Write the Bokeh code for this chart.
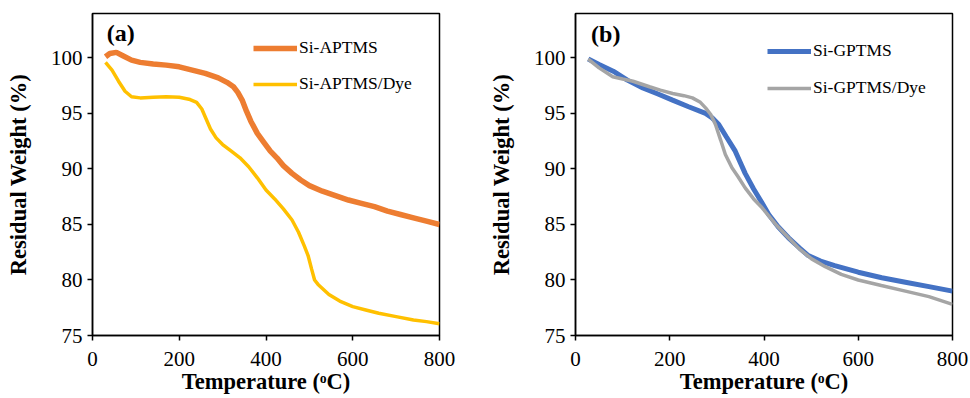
from bokeh.plotting import figure
from bokeh.layouts import row
from bokeh.models import Legend, LegendItem, Label, Range1d
from bokeh.embed import file_html
from bokeh.resources import INLINE

# ---- data ----
x_ticks = [0, 200, 400, 600, 800]
y_ticks = [75, 80, 85, 90, 95, 100]

aptms_T = [30, 40, 55, 70, 90, 110, 140, 170, 200, 230, 260, 290, 310, 325, 335, 345, 355, 365,
           380, 395, 410, 425, 440, 460, 480, 500, 530, 560, 590, 620, 650, 680, 710, 740, 770, 800]
aptms_W = [100.1, 100.4, 100.5, 100.2, 99.8, 99.6, 99.45, 99.35, 99.2, 98.9, 98.6, 98.2, 97.8, 97.4,
           96.9, 96.2, 95.2, 94.3, 93.2, 92.4, 91.6, 91.0, 90.3, 89.6, 89.0, 88.5, 88.0, 87.6, 87.2,
           86.9, 86.6, 86.2, 85.9, 85.6, 85.3, 85.0]

aptms_dye_T = [30, 45, 60, 75, 90, 110, 140, 170, 200, 225, 240, 252, 262, 272, 285, 300, 320, 340,
               360, 380, 400, 420, 440, 460, 475, 488, 497, 505, 512, 520, 545, 570, 600, 630, 660,
               700, 740, 770, 800]
aptms_dye_W = [99.6, 98.9, 97.9, 97.0, 96.5, 96.4, 96.45, 96.5, 96.45, 96.25, 96.0, 95.4, 94.5, 93.6,
               92.8, 92.2, 91.6, 91.0, 90.2, 89.2, 88.1, 87.3, 86.4, 85.4, 84.3, 83.1, 82.2, 81.0,
               80.0, 79.6, 78.7, 78.1, 77.6, 77.3, 77.0, 76.7, 76.4, 76.25, 76.05]

gptms_T = [27, 50, 80, 110, 143, 175, 206, 240, 276, 290, 304, 320, 339, 360, 378, 395, 410, 430,
           452, 475, 494, 520, 550, 600, 650, 700, 750, 800]
gptms_W = [99.9, 99.4, 98.8, 98.0, 97.3, 96.75, 96.2, 95.6, 95.0, 94.6, 94.0, 92.9, 91.6, 89.6,
           88.2, 87.0, 85.9, 84.8, 83.8, 82.9, 82.2, 81.7, 81.3, 80.7, 80.2, 79.8, 79.4, 79.0]

gptms_dye_T = [27, 50, 79, 100, 122, 157, 180, 206, 230, 248, 265, 276, 287, 297, 308, 318, 332,
               345, 360, 378, 396, 425, 452, 475, 501, 530, 564, 600, 649, 700, 750, 800]
gptms_dye_W = [99.9, 99.1, 98.3, 98.1, 97.9, 97.4, 97.1, 96.8, 96.6, 96.4, 96.0, 95.5, 94.9, 94.0,
               92.6, 91.3, 90.1, 89.3, 88.3, 87.3, 86.5, 85.0, 83.8, 82.8, 81.9, 81.2, 80.5, 80.0,
               79.5, 79.0, 78.5, 77.8]

FONT = "Liberation Serif"
XLABEL = "Temperature (\u1d52C)"
YLABEL = "Residual Weight (%)"


def make_panel(width, height, bl, br, bt, bb):
    p = figure(width=width, height=height, output_backend="svg", toolbar_location=None,
               x_range=Range1d(0, 800), y_range=Range1d(75, 104),
               min_border_left=bl, min_border_right=br, min_border_top=bt, min_border_bottom=bb)
    p.xgrid.visible = False
    p.ygrid.visible = False
    p.outline_line_color = "black"
    p.outline_line_width = 1.5
    p.outline_line_alpha = 1
    p.background_fill_color = "white"
    p.border_fill_color = "white"
    p.xaxis.ticker = x_ticks
    p.yaxis.ticker = y_ticks
    for ax in (p.xaxis, p.yaxis):
        ax.axis_line_color = "black"
        ax.axis_line_width = 1.5
        ax.major_tick_line_color = "black"
        ax.major_tick_line_width = 1.5
        ax.major_tick_in = 0
        ax.major_tick_out = 5
        ax.minor_tick_line_color = None
        ax.major_label_text_font = FONT
        ax.major_label_text_font_size = "21px"
        ax.major_label_text_color = "black"
        ax.axis_label_text_font = FONT
        ax.axis_label_text_font_size = "22.5px"
        ax.axis_label_text_font_style = "bold"
        ax.axis_label_text_color = "black"
    p.xaxis.axis_label = XLABEL
    p.yaxis.axis_label = YLABEL
    p.xaxis.major_label_standoff = 11
    p.xaxis.axis_label_standoff = 0
    p.yaxis.major_label_standoff = 5
    p.yaxis.axis_label_standoff = 17
    return p


def add_legend(p, items, vx, vy, spacing):
    leg = Legend(items=items, location=(vx, vy), orientation="vertical",
                 glyph_width=44, glyph_height=20, label_height=20, label_standoff=2,
                 spacing=spacing, padding=0, margin=0,
                 border_line_alpha=0, background_fill_alpha=0,
                 label_text_font=FONT, label_text_font_size="17.5px", label_text_color="black")
    p.add_layout(leg, "center")


# ---- panel (a) ----
pa = make_panel(485, 398, 92, 46, 13, 59)
ra1 = pa.line(aptms_T, aptms_W, line_color="#ED7D31", line_width=5.5)
ra2 = pa.line(aptms_dye_T, aptms_dye_W, line_color="#FFC000", line_width=3.5)
add_legend(pa, [LegendItem(label="Si-APTMS", renderers=[ra1]),
                LegendItem(label="Si-APTMS/Dye", renderers=[ra2])], 161, 241, 15)
pa.add_layout(Label(x=33, y=103.4, text="(a)", text_baseline="top", text_font=FONT,
                    text_font_style="bold", text_font_size="24px", text_color="black"))

# ---- panel (b) ----
pb = make_panel(485, 398, 87, 18, 13, 63)
rb1 = pb.line(gptms_T, gptms_W, line_color="#4472C4", line_width=5)
rb2 = pb.line(gptms_dye_T, gptms_dye_W, line_color="#A5A5A5", line_width=3.5)
add_legend(pb, [LegendItem(label="Si-GPTMS", renderers=[rb1]),
                LegendItem(label="Si-GPTMS/Dye", renderers=[rb2])], 192, 237, 16)
pb.add_layout(Label(x=33, y=103.3, text="(b)", text_baseline="top", text_font=FONT,
                    text_font_style="bold", text_font_size="24px", text_color="black"))

layout = row(pa, pb)
open("out.html", "w").write(file_html(layout, INLINE))
